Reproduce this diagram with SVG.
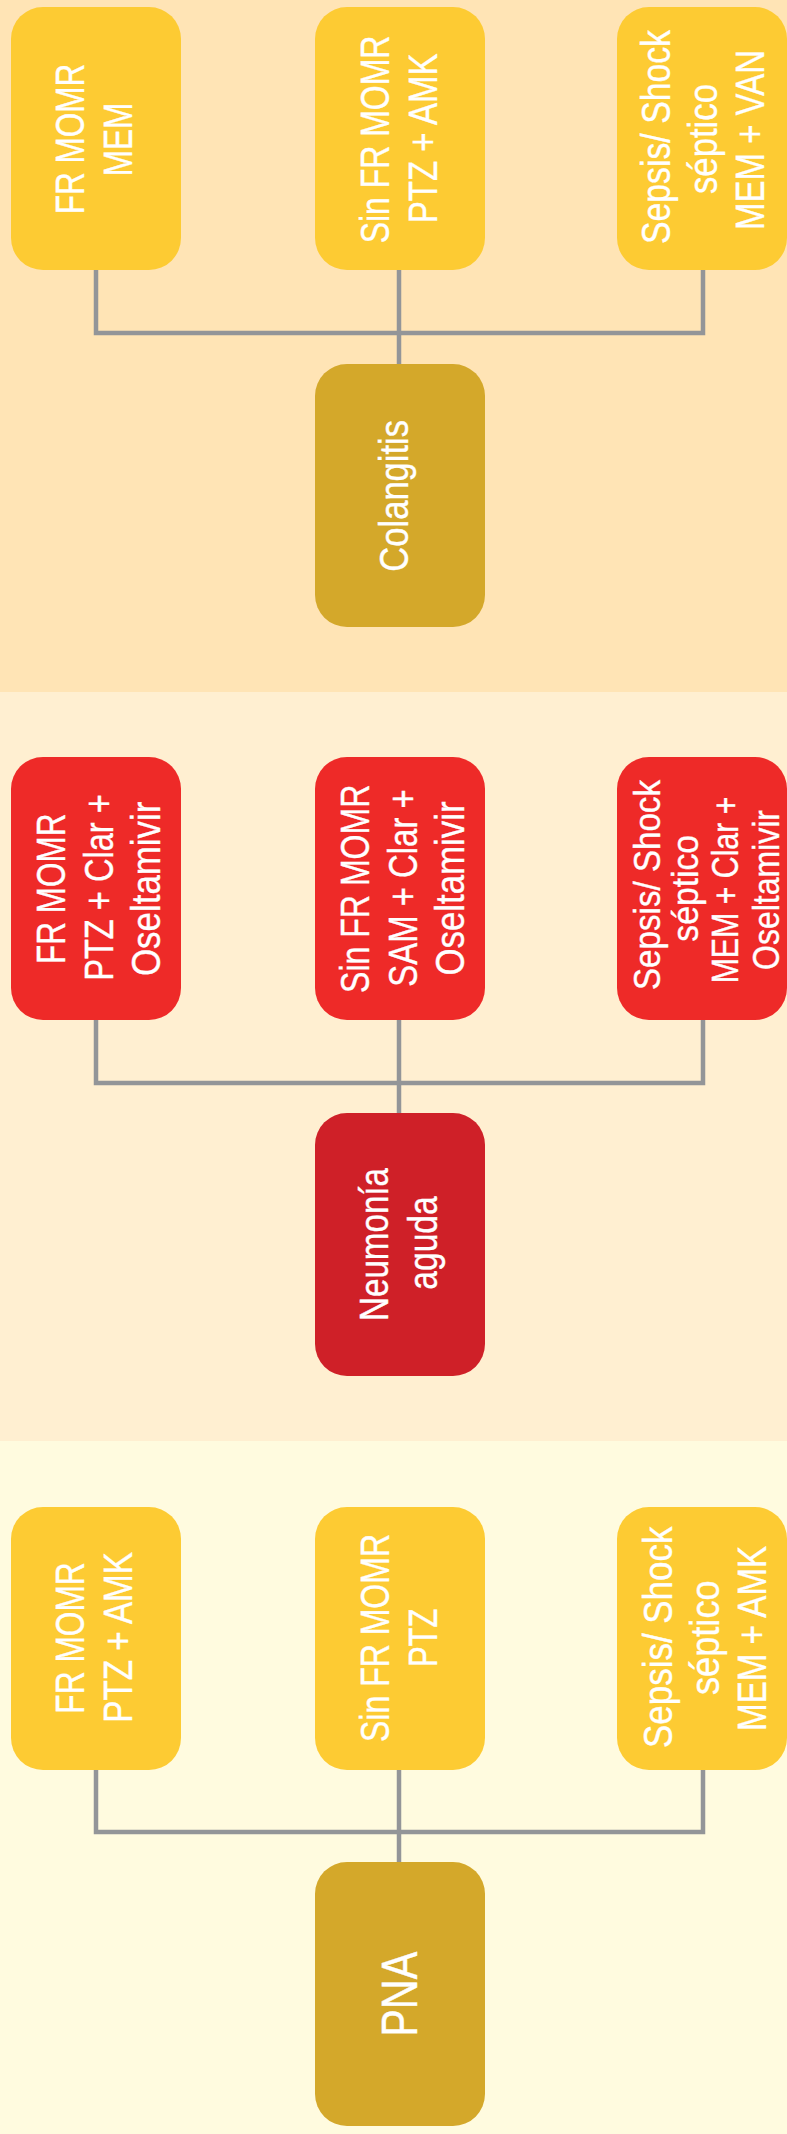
<svg xmlns="http://www.w3.org/2000/svg" width="787" height="2134" viewBox="0 0 787 2134">
<style>
.yb{fill:#FDCB33}
.gb{fill:#D4A82A}
.rb{fill:#EE2A28}
.db{fill:#CF2028}
.t{fill:#FFFFFF;stroke:#FFFFFF;stroke-width:0.4;font-family:"Liberation Sans",Arial,sans-serif;font-size:40px}
.ts{font-size:37px}
.tl{font-size:50px}
.c{fill:none;stroke:#939598;stroke-width:4.5}
</style>
<rect x="0" y="0" width="787" height="692" fill="#FFE4B5"/>
<rect x="0" y="692" width="787" height="749" fill="#FFEFD1"/>
<rect x="0" y="1441" width="787" height="693" fill="#FFFBDF"/>

<g id="connectors">
<path class="c" d="M96,270 V333 H703 V270"/>
<path class="c" d="M399,270 V364"/>
<path class="c" d="M96,1020 V1083 H703 V1020"/>
<path class="c" d="M399,1020 V1113"/>
<path class="c" d="M96,1770 V1832 H703 V1770"/>
<path class="c" d="M399,1770 V1862"/>
</g>

<!-- Top section: Colangitis -->
<g id="col-fr">
<rect class="yb" x="11" y="7" width="170" height="263" rx="32"/>
<text class="t" transform="translate(84.3,139) rotate(-90)" x="-75.25" textLength="150.5" lengthAdjust="spacingAndGlyphs">FR MOMR</text>
<text class="t" transform="translate(131.5,139.5) rotate(-90)" x="-36.8" textLength="73.6" lengthAdjust="spacingAndGlyphs">MEM</text>
</g>
<g id="col-sinfr">
<rect class="yb" x="315" y="7" width="170" height="263" rx="32"/>
<text class="t" transform="translate(389,139.5) rotate(-90)" x="-103.8" textLength="207.6" lengthAdjust="spacingAndGlyphs">Sin FR MOMR</text>
<text class="t" transform="translate(436.7,138.4) rotate(-90)" x="-84.8" textLength="169.6" lengthAdjust="spacingAndGlyphs">PTZ + AMK</text>
</g>
<g id="col-sepsis">
<rect class="yb" x="617" y="7" width="170" height="263" rx="32"/>
<text class="t" transform="translate(670.3,137) rotate(-90)" x="-107" textLength="214" lengthAdjust="spacingAndGlyphs">Sepsis/ Shock</text>
<text class="t" transform="translate(717,139) rotate(-90)" x="-55" textLength="110" lengthAdjust="spacingAndGlyphs">séptico</text>
<text class="t" transform="translate(763.7,140) rotate(-90)" x="-90" textLength="180" lengthAdjust="spacingAndGlyphs">MEM + VAN</text>
</g>
<g id="colangitis">
<rect class="gb" x="315" y="364" width="170" height="263" rx="32"/>
<text class="t" transform="translate(408.3,495.8) rotate(-90)" x="-75.85" textLength="151.7" lengthAdjust="spacingAndGlyphs">Colangitis</text>
</g>

<!-- Middle section: Neumonía -->
<g id="neu-fr">
<rect class="rb" x="11" y="757" width="170" height="263" rx="32"/>
<text class="t" transform="translate(65.3,888.8) rotate(-90)" x="-75.15" textLength="150.3" lengthAdjust="spacingAndGlyphs">FR MOMR</text>
<text class="t" transform="translate(113,887.5) rotate(-90)" x="-93.3" textLength="186.6" lengthAdjust="spacingAndGlyphs">PTZ + Clar +</text>
<text class="t" transform="translate(159.6,888.8) rotate(-90)" x="-87.25" textLength="174.5" lengthAdjust="spacingAndGlyphs">Oseltamivir</text>
</g>
<g id="neu-sinfr">
<rect class="rb" x="315" y="757" width="170" height="263" rx="32"/>
<text class="t" transform="translate(369,888.8) rotate(-90)" x="-104.2" textLength="208.4" lengthAdjust="spacingAndGlyphs">Sin FR MOMR</text>
<text class="t" transform="translate(416.7,888) rotate(-90)" x="-98.65" textLength="197.3" lengthAdjust="spacingAndGlyphs">SAM + Clar +</text>
<text class="t" transform="translate(464,888.5) rotate(-90)" x="-87" textLength="174" lengthAdjust="spacingAndGlyphs">Oseltamivir</text>
</g>
<g id="neu-sepsis">
<rect class="rb" x="617" y="757" width="170" height="263" rx="32"/>
<text class="t ts" transform="translate(659.7,885) rotate(-90)" x="-105" textLength="210" lengthAdjust="spacingAndGlyphs">Sepsis/ Shock</text>
<text class="t ts" transform="translate(698,888.3) rotate(-90)" x="-53.35" textLength="106.7" lengthAdjust="spacingAndGlyphs">séptico</text>
<text class="t ts" transform="translate(737.7,890) rotate(-90)" x="-93.35" textLength="186.7" lengthAdjust="spacingAndGlyphs">MEM + Clar +</text>
<text class="t ts" transform="translate(778.7,890) rotate(-90)" x="-80" textLength="160" lengthAdjust="spacingAndGlyphs">Oseltamivir</text>
</g>
<g id="neumonia">
<rect class="db" x="315" y="1113" width="170" height="263" rx="32"/>
<text class="t" transform="translate(388.3,1244.5) rotate(-90)" x="-76.5" textLength="153" lengthAdjust="spacingAndGlyphs">Neumonía</text>
<text class="t" transform="translate(436.7,1243) rotate(-90)" x="-46.7" textLength="93.4" lengthAdjust="spacingAndGlyphs">aguda</text>
</g>

<!-- Bottom section: PNA -->
<g id="pna-fr">
<rect class="yb" x="11" y="1507" width="170" height="263" rx="32"/>
<text class="t" transform="translate(84.3,1638) rotate(-90)" x="-75.65" textLength="151.3" lengthAdjust="spacingAndGlyphs">FR MOMR</text>
<text class="t" transform="translate(131.5,1637.4) rotate(-90)" x="-85.3" textLength="170.6" lengthAdjust="spacingAndGlyphs">PTZ + AMK</text>
</g>
<g id="pna-sinfr">
<rect class="yb" x="315" y="1507" width="170" height="263" rx="32"/>
<text class="t" transform="translate(389,1638) rotate(-90)" x="-104" textLength="208" lengthAdjust="spacingAndGlyphs">Sin FR MOMR</text>
<text class="t" transform="translate(436.7,1637.9) rotate(-90)" x="-29.2" textLength="58.4" lengthAdjust="spacingAndGlyphs">PTZ</text>
</g>
<g id="pna-sepsis">
<rect class="yb" x="617" y="1507" width="170" height="263" rx="32"/>
<text class="t" transform="translate(671.7,1637.3) rotate(-90)" x="-110.7" textLength="221.4" lengthAdjust="spacingAndGlyphs">Sepsis/ Shock</text>
<text class="t" transform="translate(719,1637.7) rotate(-90)" x="-57.25" textLength="114.5" lengthAdjust="spacingAndGlyphs">séptico</text>
<text class="t" transform="translate(765.5,1638.4) rotate(-90)" x="-92.5" textLength="185" lengthAdjust="spacingAndGlyphs">MEM + AMK</text>
</g>
<g id="pna">
<rect class="gb" x="315" y="1862" width="170" height="264" rx="32"/>
<text class="t tl" transform="translate(416.7,1994.2) rotate(-90)" x="-42.5" textLength="85" lengthAdjust="spacingAndGlyphs">PNA</text>
</g>
</svg>
